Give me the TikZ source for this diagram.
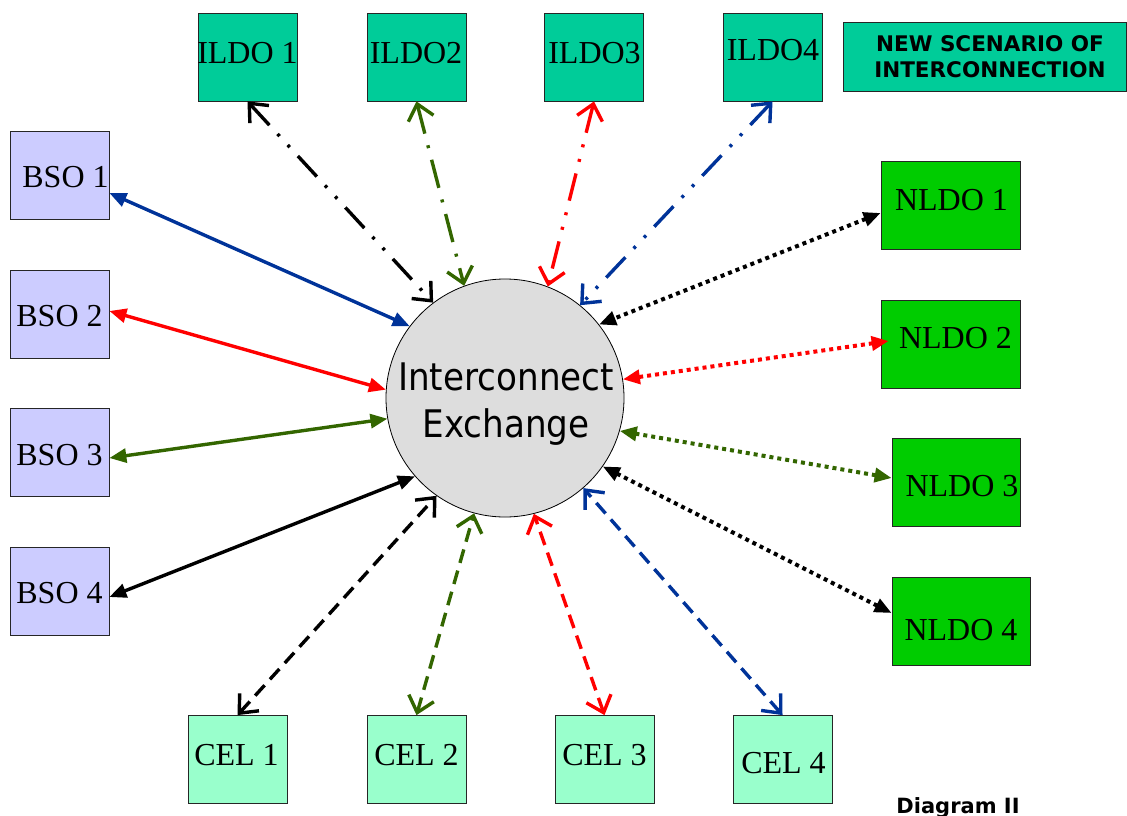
\documentclass[tikz,border=0pt]{standalone}
\usepackage{fontspec}
\setmainfont{Liberation Serif}
\newfontfamily\exfont[FakeStretch=0.9]{DejaVu Sans}
\newfontfamily\ttlfont{DejaVu Sans}
\usetikzlibrary{arrows.meta}
\definecolor{ildoc}{HTML}{00CC99}
\definecolor{bsoc}{HTML}{CCCCFF}
\definecolor{nldoc}{HTML}{00CC00}
\definecolor{celc}{HTML}{99FFCC}
\definecolor{exc}{HTML}{DDDDDD}
\definecolor{cblue}{HTML}{003399}
\definecolor{cgreen}{HTML}{336600}
\definecolor{cred}{HTML}{FF0000}
\begin{document}
\begin{tikzpicture}[x=1pt,y=-1pt,
  box/.style={draw=black!85, line width=0.8pt, inner sep=0pt, minimum width=99pt, minimum height=88pt},
  lbl/.style={font=\fontsize{32}{32}\selectfont, inner sep=0pt},
  solidlink/.style={line width=3.4pt, {Triangle[length=17pt,width=14pt]}-{Triangle[length=17pt,width=14pt]}},
  dotlink/.style={line width=4pt, dash pattern=on 4pt off 4pt, {Triangle[length=17pt,width=14pt]}-{Triangle[length=17pt,width=14pt]}},
  openlink/.style={line width=3.4pt, {Straight Barb[length=15pt,width=26pt]}-{Straight Barb[length=15pt,width=26pt]}},
  dashdotdot/.style={dash pattern=on 28pt off 12pt on 3pt off 12pt on 3pt off 12pt},
  dashdot/.style={dash pattern=on 29pt off 12pt on 3pt off 12pt},
  longdash/.style={dash pattern=on 14pt off 8pt}
]
\useasboundingbox (0,0) rectangle (1127,816);

% exchange
\node[circle, draw=black, line width=0.8pt, fill=exc, minimum size=238pt, inner sep=0pt] (ex) at (505,398) {};
\node[font=\exfont\fontsize{38}{47}\selectfont, align=center, inner sep=0pt] (ext) at (506,404) {Interconnect\\Exchange};

% ILDO boxes
\node[box, fill=ildoc] (ildo1) at (247.5,57) {};
\node[box, fill=ildoc] (ildo2) at (416.5,57) {};
\node[box, fill=ildoc] (ildo3) at (594,57) {};
\node[box, fill=ildoc] (ildo4) at (772.5,57) {};
\node[lbl] (ildo1t) at (247.5,53) {ILDO 1};
\node[lbl] (ildo2t) at (416,53) {ILDO2};
\node[lbl] (ildo3t) at (594.5,53) {ILDO3};
\node[lbl] (ildo4t) at (773,50) {ILDO4};

% title box
\node[draw=black!85, line width=0.8pt, fill=ildoc, minimum width=283pt, minimum height=69pt, inner sep=0pt] (title) at (984.5,56.5) {};
\node[font=\ttlfont\bfseries\fontsize{21.5}{26}\selectfont, align=center, inner sep=0pt] (titlet) at (990,57) {NEW SCENARIO OF\\INTERCONNECTION};

% BSO boxes
\node[box, fill=bsoc] (bso1) at (59.5,175.5) {};
\node[box, fill=bsoc] (bso2) at (59.5,314.5) {};
\node[box, fill=bsoc] (bso3) at (59.5,452.5) {};
\node[box, fill=bsoc] (bso4) at (59.5,591.5) {};
\node[lbl] (bso1t) at (65.5,177) {BSO 1};
\node[lbl] (bso2t) at (59.5,316) {BSO 2};
\node[lbl] (bso3t) at (59.5,455) {BSO 3};
\node[lbl] (bso4t) at (59.5,593) {BSO 4};

% NLDO boxes
\node[box, fill=nldoc, minimum width=139pt] (nldo1) at (950.5,205.5) {};
\node[box, fill=nldoc, minimum width=139pt] (nldo2) at (950.5,344.5) {};
\node[box, fill=nldoc, minimum width=128pt] (nldo3) at (956,482.5) {};
\node[box, fill=nldoc, minimum width=138pt] (nldo4) at (961,621.5) {};
\node[lbl] (nldo1t) at (951.5,200) {NLDO 1};
\node[lbl] (nldo2t) at (955.5,338) {NLDO 2};
\node[lbl] (nldo3t) at (962,486) {NLDO 3};
\node[lbl] (nldo4t) at (961,630) {NLDO 4};

% CEL boxes
\node[box, fill=celc] (cel1) at (237.5,759.5) {};
\node[box, fill=celc] (cel2) at (416.5,759.5) {};
\node[box, fill=celc] (cel3) at (604.5,759.5) {};
\node[box, fill=celc] (cel4) at (782.5,759.5) {};
\node[lbl] (cel1t) at (236.5,755) {CEL 1};
\node[lbl] (cel2t) at (416.5,755) {CEL 2};
\node[lbl] (cel3t) at (604.5,755) {CEL 3};
\node[lbl] (cel4t) at (783.5,763) {CEL 4};

% caption
\node[font=\ttlfont\bfseries\fontsize{21}{21}\selectfont, inner sep=0pt, anchor=base] (cap) at (958,813) {Diagram II};

% ILDO links
\draw[openlink, dashdotdot, black] (ildo1.south) -- (ex.127.3);
\draw[openlink, dashdot, cgreen] (ildo2.south) -- (ex.110.2);
\draw[openlink, dashdotdot, cred] (ildo3.south) -- (ex.69.5);
\draw[openlink, dashdotdot, cblue] (ildo4.south) -- (ex.51.1);

% BSO links
\draw[solidlink, cblue] ([yshift=-17.5pt]bso1.east) -- (ex.143);
\draw[solidlink, cred] ([yshift=3.5pt]bso2.east) -- (ex.176);
\draw[solidlink, cgreen] ([yshift=-5.5pt]bso3.east) -- (ex.190.5);
\draw[solidlink, black] ([yshift=-5.5pt]bso4.east) -- (ex.221);

% NLDO links
\draw[dotlink, black] ([yshift=-7.5pt]nldo1.west) -- (ex.38);
\draw[dotlink, cred] ([xshift=8pt,yshift=3.5pt]nldo2.west) -- (ex.9);
\draw[dotlink, cgreen] ([yshift=4.5pt]nldo3.west) -- (ex.-16);
\draw[dotlink, black] ([yshift=8.5pt]nldo4.west) -- (ex.-35.5);

% CEL links
\draw[openlink, longdash, black] (cel1.north) -- (ex.235.4);
\draw[openlink, longdash, cgreen] (cel2.north) -- (ex.255);
\draw[openlink, longdash, cred] (cel3.north) -- (ex.284.4);
\draw[openlink, longdash, cblue] (cel4.north) -- (ex.311.6);
\end{tikzpicture}
\end{document}
